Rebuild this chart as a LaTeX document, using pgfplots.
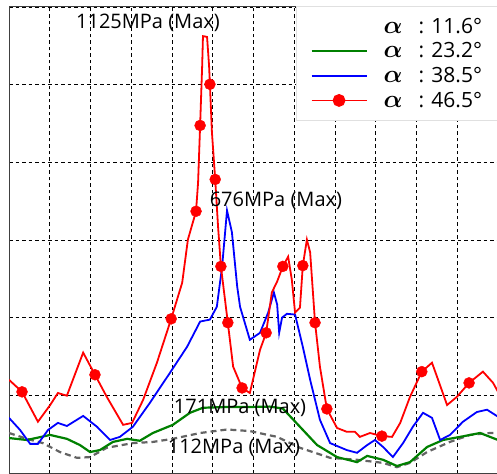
\documentclass[border=0pt]{standalone}
\usepackage{amsmath}
\usepackage{pgfplots}
\pgfplotsset{compat=1.18}
\usepackage{fontspec}
\setmainfont{Open Sans}
\definecolor{cgreen}{RGB}{0,128,0}
\definecolor{cgray}{RGB}{100,100,100}
\newcommand{\alp}{{\fontsize{29}{29}\selectfont$\boldsymbol{\alpha}$}}
\pgfplotsset{
  legnone/.style={legend image code/.code={}},
  legline/.style={legend image code/.code={\draw[##1] (0pt,0pt) -- (55pt,0pt);}},
  legmark/.style={legend image code/.code={\draw[##1] (0pt,0pt) -- (55pt,0pt); \fill[red] (27.5pt,0pt) circle (5.5pt);}},
}
\begin{document}
\begin{tikzpicture}
\begin{axis}[
  name=ax, at={(0,0)}, anchor=south west,
  scale only axis, width=489pt, height=466pt,
  xmin=0, xmax=12, ymin=0, ymax=1200,
  xtick={0,1,...,12}, ytick={0,200,...,1200},
  xticklabels={}, yticklabels={},
  major tick length=0pt,
  grid=major,
  grid style={black, line width=0.8pt, dash pattern=on 3.5pt off 3pt},
  axis line style={black!75, line width=1pt},
  legend cell align=left,
  legend style={at={(rel axis cs:0.587,1.002)}, anchor=north west,
    fill=white, draw=black!12, line width=0.8pt,
    font=\fontsize{21}{23}\selectfont,
    inner xsep=14pt, inner ysep=9.5pt, row sep=4pt,
    /tikz/every odd column/.append style={column sep=14pt}},
  clip=true,
]
% 11.6 deg
\addplot[cgray, line width=2.2pt, dash pattern=on 6pt off 4pt, legnone] table {
0 103
0.44 88
0.83 77
1.25 54
1.67 39
1.99 41
2.40 65
3.04 77
3.53 80
4.02 88
4.69 103
5.35 112
5.91 108
6.58 93
7.14 65
7.88 39
8.54 34
9.18 26
9.52 15
9.84 26
10.26 54
10.82 80
11.31 98
11.80 103
12.00 103
};
\addlegendentry{\alp\hspace{16pt}: 11.6°}
% 23.2 deg
\addplot[cgreen, line width=2.2pt, legline] table {
0 90
0.44 85
1.01 98
1.42 88
1.74 72
1.99 54
2.23 59
2.55 80
2.90 88
3.21 83
3.53 103
4.02 124
4.44 155
4.76 168
5.35 170
5.91 170
6.40 171
6.72 166
7.14 119
7.56 72
8.05 41
8.54 28
8.79 44
9.18 34
9.52 18
9.84 28
10.26 67
10.65 85
11.07 93
11.56 103
12.00 85
};
\addlegendentry{\alp\hspace{16pt}: 23.2°}
% 38.5 deg
\addplot[blue, line width=1.8pt, legline] table {
0 142
0.27 111
0.52 75
0.71 75
0.96 111
1.20 129
1.42 121
1.82 147
2.16 119
2.48 85
2.72 93
3.04 119
3.46 181
3.95 258
4.37 325
4.69 390
4.93 395
5.10 428
5.23 532
5.35 676
5.47 620
5.60 480
5.67 428
5.91 343
6.16 361
6.36 413
6.50 465
6.58 434
6.63 361
6.70 400
6.82 410
7.02 408
7.21 325
7.39 240
7.63 137
7.88 77
8.29 59
8.54 52
8.79 72
8.98 85
9.18 67
9.42 41
9.67 77
9.91 119
10.16 155
10.38 142
10.58 85
10.82 98
11.14 132
11.48 157
11.73 163
12.00 145
};
\addlegendentry{\alp\hspace{16pt}: 38.5°}
% 46.5 deg
\addplot[red, line width=1.8pt, legmark] table {
0 240
0.32 209
0.71 132
1.01 175
1.20 206
1.42 199
1.82 310
2.11 253
2.40 196
2.80 124
3.02 129
3.29 188
3.63 284
3.98 397
4.25 490
4.39 601
4.59 674
4.64 748
4.69 895
4.74 1048
4.76 1125
4.86 1123
4.91 1048
4.93 1001
4.98 877
5.06 756
5.13 635
5.20 532
5.37 387
5.50 274
5.72 219
5.91 206
6.16 317
6.31 361
6.45 465
6.58 493
6.72 532
6.85 557
6.94 498
7.02 413
7.14 426
7.21 534
7.31 601
7.39 568
7.51 387
7.63 274
7.80 165
8.05 116
8.29 106
8.49 106
8.61 93
8.86 103
9.15 95
9.40 93
9.60 129
9.84 196
10.13 261
10.38 284
10.53 240
10.75 175
10.99 196
11.29 232
11.63 261
11.88 232
12.00 209
};
\addlegendentry{\alp\hspace{16pt}: 46.5°}
\addplot[only marks, mark=*, mark size=5.5pt, red, forget plot] table {
0.32 209
2.11 253
3.98 397
4.59 674
4.69 895
4.93 1001
5.06 756
5.20 532
5.37 387
5.72 219
6.31 361
6.72 532
7.21 534
7.51 387
7.80 165
9.15 95
10.13 261
11.29 232
};
\node[font=\fontsize{20}{22}\selectfont] at (axis cs:3.41,1159) {1125MPa (Max)};
\node[font=\fontsize{20}{22}\selectfont] at (axis cs:6.55,702) {676MPa (Max)};
\node[font=\fontsize{20}{22}\selectfont] at (axis cs:5.67,168) {171MPa (Max)};
\node[font=\fontsize{20}{22}\selectfont] at (axis cs:5.52,65) {112MPa (Max)};
\end{axis}
\pgfresetboundingbox
\path[use as bounding box] (-9pt,0pt) rectangle (488pt,473pt);
\end{tikzpicture}
\end{document}
